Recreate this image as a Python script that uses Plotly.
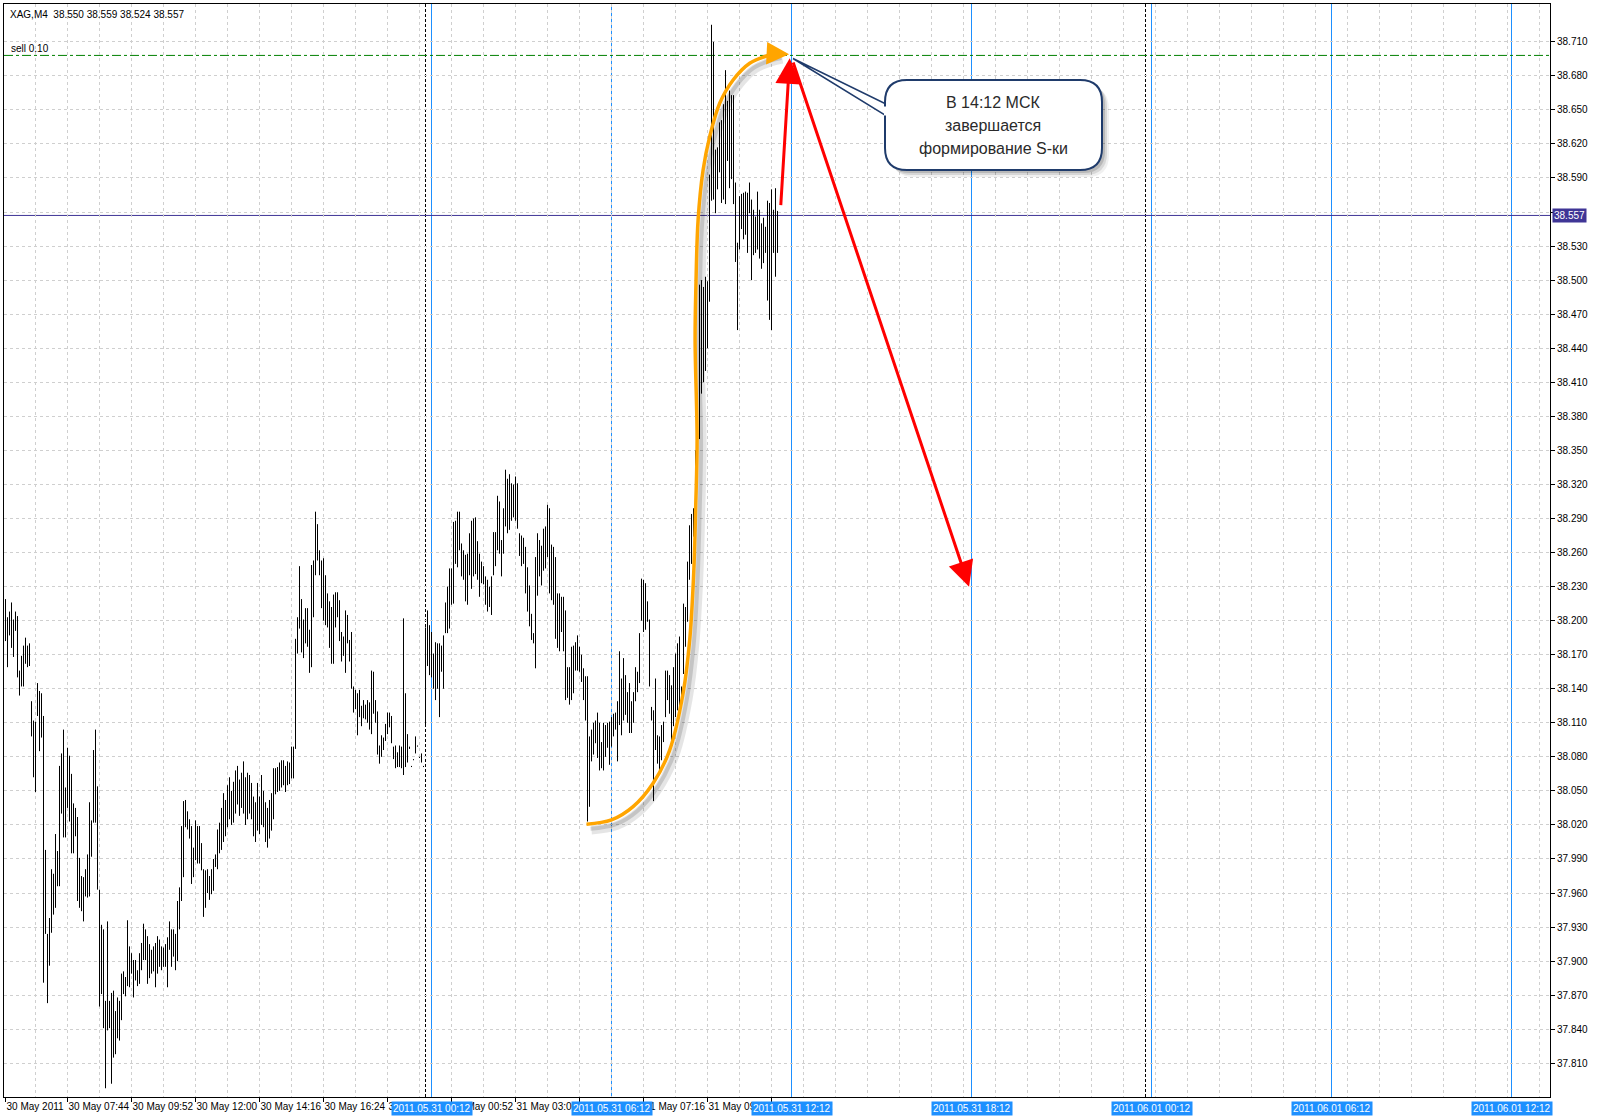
import plotly.graph_objects as go

# --- chart data ---
symbol_info = "XAG,M4  38.550 38.559 38.524 38.557"
last_price = 38.557
sell_price = 38.698
sell_label = "sell 0.10"

bar_high = [
    38.219, 38.203, 38.208, 38.216, 38.201, 38.208, 38.204, 38.156, 38.169, 38.178,
    38.185, 38.178, 38.180, 38.129, 38.112, 38.111, 38.145, 38.138, 38.136, 38.116,
    37.998, 37.924, 37.938, 37.981, 37.977, 38.012, 37.997, 38.072, 38.083, 38.104,
    38.053, 38.088, 38.081, 38.065, 38.039, 38.035, 38.027, 37.991, 37.975, 37.974,
    37.981, 37.994, 38.040, 38.024, 38.086, 38.104, 38.054, 37.963, 37.932, 37.928,
    37.865, 37.935, 37.865, 37.872, 37.874, 37.856, 37.868, 37.865, 37.889, 37.891,
    37.886, 37.936, 37.913, 37.907, 37.901, 37.901, 37.892, 37.907, 37.916, 37.933,
    37.928, 37.922, 37.915, 37.910, 37.913, 37.916, 37.922, 37.919, 37.913, 37.912,
    37.915, 37.921, 37.935, 37.928, 37.928, 37.924, 37.953, 37.965, 38.019, 38.041,
    38.042, 38.032, 38.025, 38.019, 38.000, 38.024, 38.019, 38.019, 38.004, 37.981,
    37.980, 37.981, 37.975, 37.981, 37.990, 37.994, 38.016, 38.022, 38.035, 38.048,
    38.042, 38.055, 38.062, 38.050, 38.058, 38.068, 38.072, 38.060, 38.066, 38.076,
    38.062, 38.066, 38.064, 38.057, 38.045, 38.040, 38.057, 38.045, 38.064, 38.050,
    38.040, 38.035, 38.042, 38.048, 38.070, 38.070, 38.071, 38.075, 38.077, 38.077,
    38.072, 38.076, 38.075, 38.089, 38.089, 38.184, 38.203, 38.248, 38.219, 38.201,
    38.211, 38.211, 38.192, 38.249, 38.253, 38.296, 38.285, 38.262, 38.253, 38.255,
    38.240, 38.224, 38.217, 38.212, 38.223, 38.225, 38.225, 38.218, 38.190, 38.186,
    38.209, 38.205, 38.183, 38.190, 38.142, 38.139, 38.136, 38.139, 38.125, 38.130,
    38.126, 38.130, 38.128, 38.156, 38.155, 38.130, 38.120, 38.090, 38.099, 38.097,
    38.109, 38.119, 38.119, 38.116, 38.089, 38.090, 38.084, 38.090, 38.089, 38.202,
    38.136, 38.100, 38.089, 38.072, 38.078, 38.098, 38.090, 38.080, 38.083, 38.072,
    38.194, 38.209, 38.196, 38.190, 38.171, 38.181, 38.180, 38.180, 38.178, 38.187,
    38.216, 38.230, 38.246, 38.246, 38.287, 38.288, 38.296, 38.296, 38.268, 38.262,
    38.258, 38.259, 38.277, 38.288, 38.290, 38.291, 38.270, 38.259, 38.252, 38.248,
    38.239, 38.236, 38.230, 38.239, 38.278, 38.278, 38.310, 38.305, 38.271, 38.299,
    38.333, 38.325, 38.329, 38.321, 38.320, 38.327, 38.321, 38.277, 38.275, 38.273,
    38.265, 38.247, 38.231, 38.206, 38.189, 38.256, 38.277, 38.271, 38.266, 38.281,
    38.283, 38.302, 38.299, 38.267, 38.265, 38.256, 38.224, 38.224, 38.221, 38.221,
    38.209, 38.159, 38.159, 38.177, 38.178, 38.181, 38.187, 38.177, 38.170, 38.158,
    38.151, 38.151, 38.098, 38.104, 38.110, 38.112, 38.119, 38.110, 38.093, 38.110,
    38.108, 38.110, 38.111, 38.115, 38.118, 38.119, 38.129, 38.173, 38.149, 38.167,
    38.152, 38.137, 38.145, 38.129, 38.137, 38.159, 38.155, 38.189, 38.237, 38.236,
    38.233, 38.217, 38.201, 38.124, 38.121, 38.149, 38.099, 38.098, 38.108, 38.111,
    38.156, 38.156, 38.152, 38.143, 38.159, 38.171, 38.180, 38.186, 38.142, 38.215,
    38.212, 38.252, 38.284, 38.294, 38.299, 38.350, 38.400, 38.496, 38.500, 38.494,
    38.503, 38.499, 38.593, 38.725, 38.710, 38.615, 38.617, 38.639, 38.641, 38.655,
    38.685, 38.658, 38.667, 38.663, 38.663, 38.586, 38.533, 38.574, 38.576, 38.577,
    38.578, 38.577, 38.586, 38.571, 38.562, 38.556, 38.578, 38.562, 38.550, 38.555,
    38.547, 38.570, 38.568, 38.580, 38.562, 38.581, 38.561,
]
bar_low = [
    38.182, 38.159, 38.187, 38.176, 38.168, 38.191, 38.150, 38.134, 38.142, 38.142,
    38.162, 38.159, 38.160, 38.098, 38.062, 38.049, 38.116, 38.085, 38.097, 37.881,
    37.924, 37.863, 37.896, 37.925, 37.941, 37.947, 37.966, 37.966, 38.030, 38.009,
    38.009, 38.035, 38.023, 37.995, 37.995, 38.010, 37.953, 37.947, 37.944, 37.935,
    37.957, 37.956, 37.957, 37.992, 38.022, 38.022, 37.963, 37.860, 37.871, 37.841,
    37.788, 37.839, 37.841, 37.792, 37.815, 37.818, 37.832, 37.830, 37.848, 37.871,
    37.869, 37.878, 37.877, 37.889, 37.868, 37.883, 37.878, 37.880, 37.892, 37.901,
    37.901, 37.880, 37.885, 37.889, 37.891, 37.877, 37.889, 37.895, 37.892, 37.895,
    37.895, 37.877, 37.910, 37.895, 37.904, 37.892, 37.900, 37.928, 37.953, 37.974,
    38.018, 38.016, 38.008, 37.968, 37.974, 37.989, 37.986, 37.986, 37.980, 37.939,
    37.947, 37.960, 37.954, 37.959, 37.962, 37.983, 37.981, 37.995, 37.998, 38.005,
    38.010, 38.018, 38.025, 38.020, 38.022, 38.030, 38.038, 38.028, 38.035, 38.030,
    38.020, 38.025, 38.030, 38.025, 38.010, 38.005, 38.015, 38.012, 38.020, 38.018,
    38.005, 38.000, 38.008, 38.015, 38.025, 38.047, 38.049, 38.050, 38.053, 38.055,
    38.049, 38.055, 38.056, 38.061, 38.061, 38.087, 38.171, 38.193, 38.172, 38.167,
    38.180, 38.177, 38.154, 38.159, 38.203, 38.240, 38.253, 38.240, 38.211, 38.200,
    38.196, 38.194, 38.176, 38.162, 38.162, 38.194, 38.203, 38.182, 38.164, 38.169,
    38.154, 38.180, 38.164, 38.140, 38.119, 38.122, 38.099, 38.115, 38.107, 38.114,
    38.113, 38.110, 38.104, 38.100, 38.118, 38.110, 38.082, 38.074, 38.080, 38.086,
    38.094, 38.100, 38.106, 38.092, 38.078, 38.070, 38.071, 38.071, 38.070, 38.064,
    38.071, 38.075, 38.087, 38.071, 38.077, 38.083, 38.089, 38.079, 38.075, 38.071,
    38.108, 38.160, 38.152, 38.150, 38.140, 38.130, 38.140, 38.115, 38.155, 38.140,
    38.189, 38.189, 38.193, 38.214, 38.215, 38.250, 38.247, 38.262, 38.239, 38.236,
    38.217, 38.214, 38.240, 38.228, 38.239, 38.241, 38.236, 38.221, 38.233, 38.232,
    38.214, 38.208, 38.212, 38.205, 38.240, 38.248, 38.262, 38.259, 38.239, 38.259,
    38.283, 38.277, 38.280, 38.288, 38.291, 38.288, 38.281, 38.257, 38.248, 38.250,
    38.224, 38.208, 38.195, 38.183, 38.180, 38.158, 38.222, 38.239, 38.231, 38.244,
    38.246, 38.256, 38.224, 38.218, 38.214, 38.184, 38.176, 38.173, 38.190, 38.173,
    38.130, 38.132, 38.126, 38.130, 38.136, 38.156, 38.156, 38.155, 38.146, 38.130,
    38.112, 38.023, 38.036, 38.076, 38.082, 38.092, 38.079, 38.068, 38.070, 38.068,
    38.080, 38.088, 38.073, 38.089, 38.098, 38.104, 38.076, 38.108, 38.099, 38.112,
    38.117, 38.110, 38.101, 38.101, 38.110, 38.129, 38.137, 38.145, 38.200, 38.190,
    38.192, 38.199, 38.142, 38.112, 38.041, 38.086, 38.074, 38.068, 38.077, 38.093,
    38.115, 38.130, 38.118, 38.093, 38.107, 38.115, 38.121, 38.114, 38.124, 38.153,
    38.177, 38.199, 38.236, 38.250, 38.274, 38.300, 38.325, 38.360, 38.400, 38.410,
    38.420, 38.440, 38.481, 38.570, 38.571, 38.559, 38.580, 38.595, 38.568, 38.571,
    38.567, 38.605, 38.581, 38.589, 38.567, 38.516, 38.456, 38.527, 38.545, 38.536,
    38.540, 38.524, 38.559, 38.500, 38.522, 38.524, 38.527, 38.519, 38.510, 38.515,
    38.524, 38.482, 38.465, 38.456, 38.524, 38.503, 38.524,
]

# time axis (bar index) labels
time_tick_idx = [0, 31, 63, 95, 127, 159, 191, 223, 255, 287, 319, 351, 383]
time_tick_text = ["30 May 2011", "30 May 07:44", "30 May 09:52", "30 May 12:00",
                  "30 May 14:16", "30 May 16:24", "30 May 18:32", "31 May 00:52",
                  "31 May 03:00", "31 May 05:08", "31 May 07:16", "31 May 09:24",
                  "31 May 11:32"]
period_idx = [213, 303, 393, 483, 573, 663, 753]
period_text = ["2011.05.31 00:12", "2011.05.31 06:12", "2011.05.31 12:12",
               "2011.05.31 18:12", "2011.06.01 00:12", "2011.06.01 06:12",
               "2011.06.01 12:12"]
day_sep_idx = [210, 570]

price_ticks = [37.810, 37.840, 37.870, 37.900, 37.930, 37.960, 37.990, 38.020,
               38.050, 38.080, 38.110, 38.140, 38.170, 38.200, 38.230, 38.260,
               38.290, 38.320, 38.350, 38.380, 38.410, 38.440, 38.470, 38.500,
               38.530, 38.560, 38.590, 38.620, 38.650, 38.680, 38.710]

# hand-drawn annotations (bar index, price)
s_curve_idx = [290.5, 303.0, 313.8, 323.8, 332.1, 338.8, 342.1, 344.1, 345.1,
               345.8, 344.8, 345.2, 346.3, 348.8, 352.1, 357.1, 363.8, 372.1,
               380.5, 386.0]
s_curve_price = [38.0206, 38.0244, 38.0361, 38.0567, 38.0860, 38.1360, 38.1830,
                 38.2417, 38.3004, 38.3592, 38.4473, 38.4942, 38.5530, 38.5970,
                 38.6264, 38.6558, 38.6763, 38.6911, 38.6975, 38.6997]
callout_lines = ["В 14:12 МСК", "завершается", "формирование S-ки"]

FONT = "Liberation Sans, Arial, sans-serif"
W, H = 1600, 1120
ML, MR, MT, MB = 4, 50, 4, 23
PW, PH = W - ML - MR, H - MT - MB


def paper(x, y):
    """pixel position -> paper coordinates"""
    return (x - ML) / PW, 1 - (y - MT) / PH


def rounded_box(x0, y0, x1, y1, r):
    segs = [("M", [(x0 + r, y0)]), ("L", [(x1 - r, y0)]),
            ("Q", [(x1, y0), (x1, y0 + r)]), ("L", [(x1, y1 - r)]),
            ("Q", [(x1, y1), (x1 - r, y1)]), ("L", [(x0 + r, y1)]),
            ("Q", [(x0, y1), (x0, y1 - r)]), ("L", [(x0, y0 + r)]),
            ("Q", [(x0, y0), (x0 + r, y0)])]
    out = ""
    for cmd, pts in segs:
        out += cmd + " " + " ".join(f"{paper(px, py)[0]:.5f},{paper(px, py)[1]:.5f}" for px, py in pts) + " "
    return out + "Z"


def poly(pts):
    s = "M " + " L ".join(f"{paper(px, py)[0]:.5f},{paper(px, py)[1]:.5f}" for px, py in pts)
    return s + " Z"


# bars as high-low vertical strokes
bx, by = [], []
for i, (hi, lo) in enumerate(zip(bar_high, bar_low)):
    bx += [i, i, None]
    by += [lo, hi, None]

fig = go.Figure()

# orange S-curve shadow + curve
fig.add_trace(go.Scatter(
    x=[v + 2.5 for v in s_curve_idx], y=[v - 0.0050 for v in s_curve_price],
    mode="lines", line=dict(color="rgba(0,0,0,0.10)", width=9, shape="spline"),
    hoverinfo="skip", showlegend=False))
fig.add_trace(go.Scatter(
    x=[v + 2.0 for v in s_curve_idx], y=[v - 0.0040 for v in s_curve_price],
    mode="lines", line=dict(color="rgba(0,0,0,0.14)", width=4, shape="spline"),
    hoverinfo="skip", showlegend=False))

fig.add_trace(go.Scatter(
    x=bx, y=by, mode="lines", line=dict(color="black", width=1),
    hoverinfo="skip", showlegend=False))

fig.add_trace(go.Scatter(
    x=s_curve_idx, y=s_curve_price, mode="lines",
    line=dict(color="#FFA500", width=3.5, shape="spline"),
    hoverinfo="skip", showlegend=False))

shapes = []
for d in day_sep_idx:
    shapes.append(dict(type="line", xref="x", yref="paper", x0=d, x1=d, y0=0, y1=1,
                       line=dict(color="black", width=1, dash="3px,2px"), layer="below"))
for p in period_idx:
    shapes.append(dict(type="line", xref="x", yref="paper", x0=p, x1=p, y0=0, y1=1,
                       line=dict(color="#1E90FF", width=1), layer="below"))
shapes.append(dict(type="line", xref="paper", yref="y", x0=0, x1=1, y0=last_price, y1=last_price,
                   line=dict(color="#3F3596", width=1), layer="below"))
shapes.append(dict(type="line", xref="paper", yref="y", x0=0, x1=1, y0=sell_price, y1=sell_price,
                   line=dict(color="#008000", width=1, dash="9px,3px,3px,3px"), layer="below"))

# callout: shadow, tail, box
bx0, by0, bx1, by1 = 885, 80, 1102, 170
for off, a in [(7, 0.06), (5, 0.10), (3, 0.14)]:
    shapes.append(dict(type="path", xref="paper", yref="paper",
                       path=rounded_box(bx0 + off, by0 + off, bx1 + off, by1 + off, 22),
                       fillcolor=f"rgba(0,0,0,{a})", line=dict(width=0)))
shapes.append(dict(type="path", xref="paper", yref="paper",
                   path=poly([(793, 58.5), (888, 105), (888, 117)]),
                   fillcolor="white", line=dict(color="#1F3B6B", width=1.5)))
shapes.append(dict(type="path", xref="paper", yref="paper",
                   path=rounded_box(bx0, by0, bx1, by1, 22),
                   fillcolor="white", line=dict(color="#1F3B6B", width=2)))
shapes.append(dict(type="path", xref="paper", yref="paper",
                   path=poly([(884, 106.5), (890, 106.5), (890, 115.5), (884, 115.5)]),
                   fillcolor="white", line=dict(width=0)))

annotations = []
annotations.append(dict(xref="paper", yref="paper", x=0, y=1, xanchor="left", yanchor="top",
                        xshift=4, yshift=-3, text=symbol_info, showarrow=False,
                        font=dict(family=FONT, size=10, color="black")))
annotations.append(dict(xref="paper", yref="y", x=0, y=sell_price, xanchor="left", yanchor="bottom",
                        xshift=5, yshift=-1, text=sell_label, showarrow=False,
                        font=dict(family=FONT, size=10, color="black")))
annotations.append(dict(xref="paper", yref="y", x=1, y=last_price, xanchor="left", yanchor="middle",
                        xshift=2, text=f"{last_price:.3f}", showarrow=False, bgcolor="#3F3596",
                        borderpad=1, font=dict(family=FONT, size=10, color="white")))
for p, t in zip(period_idx, period_text):
    annotations.append(dict(xref="x", yref="paper", x=p, y=0, xanchor="center", yanchor="top",
                            yshift=-4, text=t, showarrow=False, bgcolor="#1E90FF",
                            borderpad=1, font=dict(family=FONT, size=10, color="white")))
for k, line in enumerate(callout_lines):
    cx, cy = paper(993, 102 + 23 * k)
    annotations.append(dict(xref="paper", yref="paper", x=cx, y=cy, xanchor="center",
                            yanchor="middle", text=line, showarrow=False,
                            font=dict(family=FONT, size=16, color="#2A2A2A")))

# red arrows and orange arrow head
arrow_defs = [
    (392.1, 38.6955, 387.6, 38.5647, "#FF0000", 3, 1.7),
    (481.8, 38.2299, 393.6, 38.6931, "#FF0000", 3, 1.7),
    (391.8, 38.6990, 384.0, 38.6997, "#FFA500", 3, 1.5),
]
for x, y, ax, ay, col, w, sz in arrow_defs:
    annotations.append(dict(xref="x", yref="y", axref="x", ayref="y", x=x, y=y, ax=ax, ay=ay,
                            text="", showarrow=True, arrowhead=2, arrowsize=sz,
                            arrowwidth=w, arrowcolor=col, standoff=0, startstandoff=0))

fig.update_layout(
    width=W, height=H,
    margin=dict(l=ML, r=MR, t=MT, b=MB, autoexpand=False),
    paper_bgcolor="white", plot_bgcolor="white",
    font=dict(family=FONT, size=10, color="black"),
    showlegend=False,
    shapes=shapes,
    annotations=annotations,
    xaxis=dict(
        range=[-0.75, 772.25], tickvals=time_tick_idx, ticktext=time_tick_text,
        ticklabelposition="outside right", ticks="outside", ticklen=4, tickcolor="black",
        tickangle=0, automargin=False, ticklabeloverflow="allow",
        tickfont=dict(family=FONT, size=10, color="black"),
        showgrid=False, zeroline=False, showline=True, linecolor="black", mirror=True,
        minor=dict(tick0=-1, dtick=16, showgrid=True, gridcolor="#CFCFCF",
                   griddash="3px,3px", gridwidth=1, ticks=""),
        fixedrange=True,
    ),
    yaxis=dict(
        side="right", range=[37.7803, 38.7433], tickvals=price_ticks,
        ticktext=["" if abs(v - 38.560) < 1e-9 else f"{v:.3f}" for v in price_ticks],
        ticks="outside", ticklen=4, tickcolor="black", automargin=False,
        tickfont=dict(family=FONT, size=10, color="black"),
        showgrid=True, gridcolor="#CFCFCF", griddash="3px,3px", gridwidth=1,
        zeroline=False, showline=True, linecolor="black", mirror=True,
        fixedrange=True,
    ),
)

# the page body has a default 8px margin; remove it so the figure sits at (0, 0)
fig.write_html("out.html", config={"displayModeBar": False},
               post_script="document.body.style.margin='0';")
